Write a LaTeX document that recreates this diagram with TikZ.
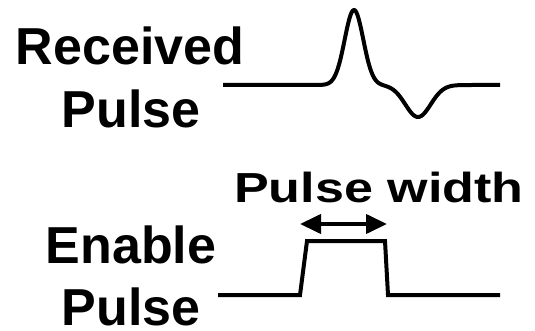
\documentclass[tikz,border=0pt]{standalone}
\usepackage{fontspec}
\setmainfont{Liberation Sans}
\usetikzlibrary{arrows.meta}
\begin{document}
\begin{tikzpicture}[x=1pt,y=-1pt,
  lbl/.style={inner sep=0pt,anchor=base,font=\bfseries\fontsize{52}{52}\selectfont},
  wave/.style={line width=4pt,line join=miter},
  dimarrow/.style={line width=4pt,{Triangle[length=21pt,width=19pt]}-{Triangle[length=21pt,width=19pt]}}]
\useasboundingbox (0,0) rectangle (535,331);
\node[lbl] (recv1) at (130,65) {Received};
\node[lbl] (recv2) at (131,128) {Pulse};
\node[lbl] (en1) at (131,263) {Enable};
\node[lbl] (en2) at (131,325.5) {Pulse};
\node[lbl,anchor=base west] (pw) at (234,202) {\fontsize{42}{42}\selectfont\scalebox{1.24}[1]{Pulse width}};
% received pulse
\draw[wave,line join=round] plot[domain=223:500,samples=300,smooth]
  (\x,{85-75*exp(-((\x-354)/9.3)^2/2)+32*exp(-((\x-418)/12.7)^2/2)});
% enable pulse
\coordinate (e0) at (218,295);
\coordinate (e1) at (300,295);
\coordinate (e2) at (307,241);
\coordinate (e3) at (385,241);
\coordinate (e4) at (388,295);
\coordinate (e5) at (500,295);
\draw[wave] (e0) -- (e1) -- (e2) -- (e3) -- (e4) -- (e5);
% width arrow
\coordinate (a0) at (300,224);
\coordinate (a1) at (387,224);
\draw[dimarrow] (a0) -- (a1);
\end{tikzpicture}
\end{document}
